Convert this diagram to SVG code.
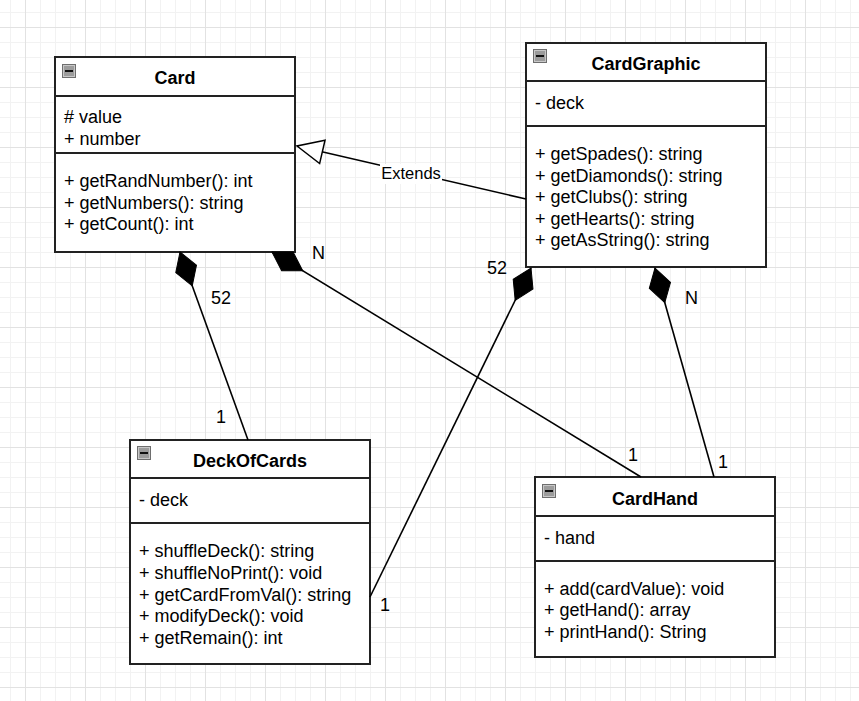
<svg xmlns="http://www.w3.org/2000/svg" width="859" height="701" viewBox="0 0 859 701">
<defs>
<pattern id="grid" patternUnits="userSpaceOnUse" x="25" y="27" width="60" height="60">
<path d="M15.5,0V60M30.5,0V60M45.5,0V60M0,15.5H60M0,30.5H60M0,45.5H60" stroke="#f2f2f2" stroke-width="1" fill="none"/>
<path d="M0.5,0V60M0,0.5H60" stroke="#e2e2e2" stroke-width="1" fill="none"/>
</pattern>
<marker id="diamond" markerUnits="userSpaceOnUse" markerWidth="40" markerHeight="26" viewBox="0 0 40 26" refX="0" refY="13" orient="auto" overflow="visible">
<path d="M0,13 L18,2 L36,13 L18,24 Z" fill="#000" stroke="#000" stroke-width="1"/>
</marker>
<marker id="tri" markerUnits="userSpaceOnUse" markerWidth="30" markerHeight="28" viewBox="0 0 30 28" refX="27" refY="14" orient="auto" overflow="visible">
<path d="M27,14 L1,2 L1,26 Z" fill="#fff" stroke="#000" stroke-width="1.5"/>
</marker>
<g id="icon">
<rect x="0.5" y="0.5" width="13" height="13" fill="#9c9c9c" stroke="#6e6e6e" stroke-width="1"/>
<rect x="1.5" y="1.5" width="11" height="11" fill="none" stroke="#c8c8c8" stroke-width="1"/>
<path d="M3,7 H11" stroke="#111" stroke-width="2"/>
</g>
</defs>
<style>
.box{fill:#fff;stroke:#222;stroke-width:2}
.sep{stroke:#222;stroke-width:2}
.t{font-family:"Liberation Sans",Arial,Helvetica,sans-serif;font-size:18px;fill:#000}
.title{font-family:"Liberation Sans",Arial,Helvetica,sans-serif;font-size:18px;font-weight:bold;fill:#000;text-anchor:middle}
.lbl{font-family:"Liberation Sans",Arial,Helvetica,sans-serif;font-size:18px;fill:#000}
.ext{font-family:"Liberation Sans",Arial,Helvetica,sans-serif;font-size:16.5px;fill:#000;text-anchor:middle}
.edge{fill:none;stroke:#000;stroke-width:1.6}
</style>
<rect width="859" height="701" fill="#fff"/>
<rect width="859" height="701" fill="url(#grid)"/>

<g id="Card">
<rect class="box" x="55" y="57" width="240" height="195"/>
<line class="sep" x1="55" y1="96" x2="295" y2="96"/>
<line class="sep" x1="55" y1="153" x2="295" y2="153"/>
<use href="#icon" x="62" y="64"/>
<text class="title" x="175" y="84">Card</text>
<text class="t" x="64" y="123">
<tspan x="64" y="123"># value</tspan>
<tspan x="64" y="144.5">+ number</tspan>
</text>
<text class="t">
<tspan x="64" y="187">+ getRandNumber(): int</tspan>
<tspan x="64" y="208.5">+ getNumbers(): string</tspan>
<tspan x="64" y="230">+ getCount(): int</tspan>
</text>
</g>

<g id="CardGraphic">
<rect class="box" x="526" y="43" width="240" height="224"/>
<line class="sep" x1="526" y1="81" x2="766" y2="81"/>
<line class="sep" x1="526" y1="126" x2="766" y2="126"/>
<use href="#icon" x="533" y="49"/>
<text class="title" x="646" y="70">CardGraphic</text>
<text class="t" x="535" y="109">- deck</text>
<text class="t">
<tspan x="535" y="160">+ getSpades(): string</tspan>
<tspan x="535" y="181.5">+ getDiamonds(): string</tspan>
<tspan x="535" y="203">+ getClubs(): string</tspan>
<tspan x="535" y="224.5">+ getHearts(): string</tspan>
<tspan x="535" y="246">+ getAsString(): string</tspan>
</text>
</g>

<g id="DeckOfCards">
<rect class="box" x="130" y="440" width="240" height="224"/>
<line class="sep" x1="130" y1="478" x2="370" y2="478"/>
<line class="sep" x1="130" y1="523" x2="370" y2="523"/>
<use href="#icon" x="137" y="446"/>
<text class="title" x="250" y="467">DeckOfCards</text>
<text class="t" x="139" y="506">- deck</text>
<text class="t">
<tspan x="139" y="557">+ shuffleDeck(): string</tspan>
<tspan x="139" y="578.5">+ shuffleNoPrint(): void</tspan>
<tspan x="139" y="600.5">+ getCardFromVal(): string</tspan>
<tspan x="139" y="622">+ modifyDeck(): void</tspan>
<tspan x="139" y="643.5">+ getRemain(): int</tspan>
</text>
</g>

<g id="CardHand">
<rect class="box" x="535" y="477" width="240" height="180"/>
<line class="sep" x1="535" y1="516" x2="775" y2="516"/>
<line class="sep" x1="535" y1="561" x2="775" y2="561"/>
<use href="#icon" x="542" y="484"/>
<text class="title" x="655" y="505">CardHand</text>
<text class="t" x="544" y="544">- hand</text>
<text class="t">
<tspan x="544" y="594.5">+ add(cardValue): void</tspan>
<tspan x="544" y="616">+ getHand(): array</tspan>
<tspan x="544" y="638">+ printHand(): String</tspan>
</text>
</g>

<g id="connectors">
<path class="edge" d="M526,199 L297,146" marker-end="url(#tri)"/>
<rect x="380" y="164" width="62" height="20" fill="#fff"/>
<text class="ext" x="411" y="179">Extends</text>

<path class="edge" d="M180,252 L248,440" marker-start="url(#diamond)"/>
<text class="lbl" x="211" y="304">52</text>
<text class="lbl" x="216" y="423">1</text>

<path class="edge" d="M272,252 L641,477" marker-start="url(#diamond)"/>
<text class="lbl" x="312" y="259">N</text>
<text class="lbl" x="628" y="461">1</text>

<path class="edge" d="M531,268 L370,597" marker-start="url(#diamond)"/>
<text class="lbl" x="487" y="274">52</text>
<text class="lbl" x="380" y="611">1</text>

<path class="edge" d="M655,268 L714,477" marker-start="url(#diamond)"/>
<text class="lbl" x="685" y="304">N</text>
<text class="lbl" x="718" y="468">1</text>
</g>
</svg>
